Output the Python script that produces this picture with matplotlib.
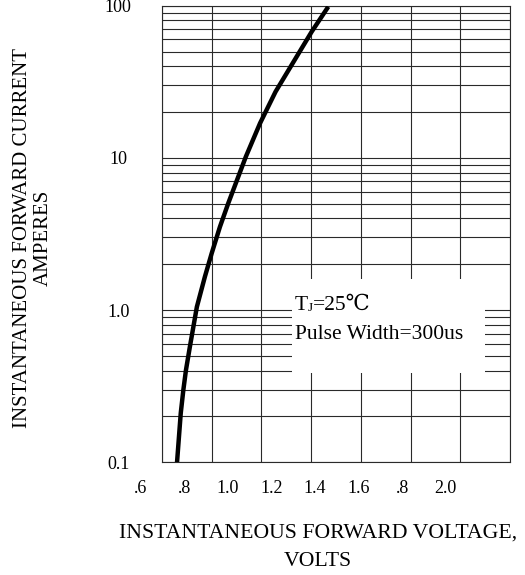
import numpy as np
import matplotlib
matplotlib.use("Agg")
import matplotlib.pyplot as plt
from matplotlib.patches import Rectangle
import matplotlib.transforms as mtransforms

plt.rcParams['font.family'] = ['Liberation Serif', 'DejaVu Serif', 'DejaVu Sans']

# Data (forward voltage V, forward current A)
voltage = [0.767, 0.784, 0.796, 0.808, 0.826, 0.858, 0.895, 0.926, 0.964,
           1.002, 1.048, 1.083, 1.148, 1.219, 1.293, 1.385, 1.461]
current = [0.10, 0.210, 0.299, 0.404, 0.575, 1.05, 1.66, 2.36, 3.53,
           5.03, 7.52, 10.2, 16.9, 27.2, 40.8, 67.5, 98.5]

x_tick_values = [0.6, 0.8, 1.0, 1.2, 1.4, 1.6, 1.8, 2.0]
x_tick_labels = ['.6', '.8', '1.0', '1.2', '1.4', '1.6', '.8', '2.0']
y_tick_values = [0.1, 1, 10, 100]
y_tick_labels = ['0.1', '1.0', '10', '100']

x_limits = (0.698, 2.295)
y_limits = (0.1, 100)

fig = plt.figure(figsize=(5.25, 5.75), dpi=100)
ax = fig.add_axes([162/525, 1-462.3/575, 348/525, 456.6/575])

ax.set_yscale('log')
ax.set_xlim(*x_limits)
ax.set_ylim(*y_limits)
ax.set_axisbelow(True)

# vertical grid: 7 equal columns
ax.set_xticks(np.linspace(x_limits[0], x_limits[1], 8), minor=True)
ax.set_xticks([])
ax.grid(True, which='minor', axis='x', color='#2a2a2a', linewidth=0.8)
ax.set_yticks(y_tick_values)
ax.set_yticklabels(y_tick_labels)
ax.grid(True, which='both', axis='y', color='#2a2a2a', linewidth=0.8)
ax.tick_params(axis='both', which='both', length=0)
ax.tick_params(axis='y', which='major', pad=31.5, labelsize=13)
for lab in ax.get_yticklabels():
    lab.set_horizontalalignment('center')
ax.yaxis.set_minor_formatter(matplotlib.ticker.NullFormatter())

for sp in ax.spines.values():
    sp.set_linewidth(0.8)
    sp.set_color('#2a2a2a')

# x tick labels (offset from the grid as in the reference)
trans = mtransforms.blended_transform_factory(ax.transData, ax.transAxes)
for v, lab in zip(x_tick_values, x_tick_labels):
    ax.text(v, -0.057, lab, transform=trans, ha='center', va='center',
            fontsize=13, clip_on=False)

# white box for the annotation
ax.add_patch(Rectangle((0.3727, 0.195), 0.5553, 0.207, transform=ax.transAxes,
                       facecolor='white', edgecolor='none', zorder=1))

fig.canvas.draw()
renderer = fig.canvas.get_renderer()
t1 = ax.text(0.382, 0.3445, 'T', transform=ax.transAxes,
             ha='left', va='center', fontsize=15.5, zorder=3)
bb1 = t1.get_window_extent(renderer)
t2 = fig.text(bb1.x1 / fig.bbox.width, (bb1.y0 + 1) / fig.bbox.height, 'J',
              ha='left', va='bottom', fontsize=9.5, zorder=3)
bb2 = t2.get_window_extent(renderer)
fig.text(bb2.x1 / fig.bbox.width, (bb1.y0 + bb1.y1) / 2 / fig.bbox.height,
         '=25℃', ha='left', va='center', fontsize=15.5, zorder=3)
ax.text(0.382, 0.2788, 'Pulse Width=300us', transform=ax.transAxes,
        ha='left', va='center', fontsize=15.5, zorder=3)

ax.plot(voltage, current, color='black', linewidth=3.2, zorder=4,
        solid_capstyle='butt', solid_joinstyle='round')

fig.text(33/525, 1-238/575, 'INSTANTANEOUS FORWARD CURRENT\nAMPERES',
         rotation=90, ha='center', va='center', multialignment='center',
         fontsize=15, linespacing=1.1)
fig.text(318/525, 1-547.5/575, 'INSTANTANEOUS FORWARD VOLTAGE,\nVOLTS',
         ha='center', va='center', multialignment='center',
         fontsize=15.7, linespacing=1.68)

fig.savefig('out.png', dpi=100)
